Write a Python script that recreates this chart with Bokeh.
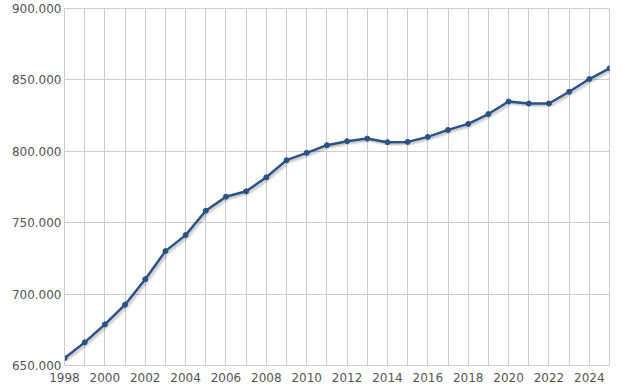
from bokeh.plotting import figure
from bokeh.models import FixedTicker, CustomJSTickFormatter, Range1d, ColumnDataSource
from bokeh.embed import file_html
from bokeh.resources import INLINE

years = list(range(1998, 2026))
population = [655100, 666200, 678800, 692600, 710400, 730100, 741300, 758400,
              768200, 772000, 781800, 793800, 798900, 804300, 807100, 808900,
              806400, 806600, 810100, 815000, 819200, 826100, 834900, 833500,
              833500, 841700, 850600, 858100]
x_label_ticks = list(range(1998, 2025, 2))
x_grid_minor = list(range(1999, 2026, 2))
y_ticks = [650000, 700000, 750000, 800000, 850000, 900000]

LINE = "#2b5285"
FONT = "DejaVu Sans"

p = figure(width=615, height=384, output_backend="svg", toolbar_location=None,
           x_range=Range1d(1998, 2025), y_range=Range1d(650000, 900000),
           min_border_left=64, min_border_right=6, min_border_top=8, min_border_bottom=19)
p.background_fill_color = "white"
p.border_fill_color = "white"
p.outline_line_color = "#cccccc"

src = ColumnDataSource(dict(x=years, y=population))

xpp = 27 / 543.0
ypp = 250000 / 356.0
for k in (1, 2, 3):
    d = 1.25 * k * 0.707
    p.line([v + d * xpp for v in years], [v - d * ypp for v in population],
           line_color="black", line_alpha=0.09, line_width=2.5)

p.line('x', 'y', source=src, line_color=LINE, line_width=2.5)
p.scatter('x', 'y', source=src, size=5, color=LINE)

p.xaxis.ticker = FixedTicker(ticks=x_label_ticks, minor_ticks=x_grid_minor)
p.yaxis.ticker = FixedTicker(ticks=y_ticks)
p.yaxis.formatter = CustomJSTickFormatter(code="""
return Math.round(tick).toString().replace(/\\B(?=(\\d{3})+(?!\\d))/g, ".");
""")

for ax in (p.xaxis[0], p.yaxis[0]):
    ax.axis_line_color = "#cccccc"
    ax.major_tick_line_color = None
    ax.minor_tick_line_color = None
    ax.major_tick_out = 0
    ax.major_label_text_font = FONT
    ax.major_label_text_font_size = "12px"
    ax.major_label_text_color = "#555555"
    ax.major_label_standoff = 3

p.xgrid.grid_line_color = "#cccccc"
p.xgrid.minor_grid_line_color = "#cccccc"
p.ygrid.grid_line_color = "#cccccc"

open("out.html", "w").write(file_html(p, INLINE))
